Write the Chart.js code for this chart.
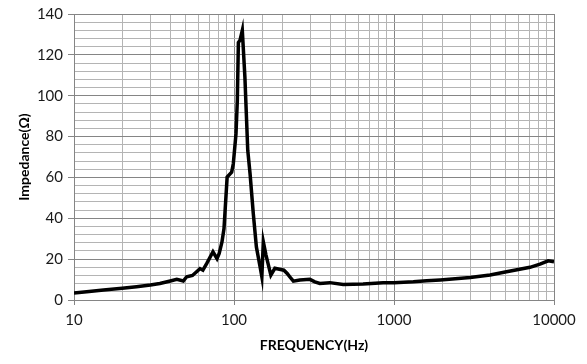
<!DOCTYPE html>
<html>
<head>
<meta charset="utf-8">
<script src="https://cdn.jsdelivr.net/npm/chart.js@4/dist/chart.umd.min.js"></script>
<style>
  html, body { margin: 0; padding: 0; background: #fff; }
  #wrap { width: 587px; height: 364px; }
</style>
</head>
<body>
<div id="wrap"><canvas id="chart"></canvas></div>
<script>
// frequency (Hz) and impedance (ohm)
const freq = [10, 12, 15.3, 20, 24.6, 30, 34.4, 40, 43.9, 48.2, 50.6, 55, 59.8, 61.3, 63.9, 67.6, 73.9, 78.3, 80.8, 84.1, 86.6,
  90.6, 96.7, 99, 102.9, 104.9, 106.5, 109, 112.7, 117, 121.9, 126, 132, 138, 145.5, 149.3, 152.5, 158.5, 170, 180,
  205, 215, 223, 235, 258, 298, 320, 344, 397, 481, 641, 856, 1000, 1320, 1600, 1945, 2993, 3985, 5050, 7080, 8170, 9200, 10000];
const impedance = [3.4, 4.0, 4.9, 5.8, 6.5, 7.3, 8.1, 9.3, 10.1, 9.3, 11.4, 12, 14.6, 15.4, 14.6, 17.9, 23.6, 20.3, 22.8, 28.4, 35,
  60.2, 62.6, 66.7, 81.3, 97.6, 126, 127.1, 132, 109, 73.2, 61.8, 42.3, 26, 16.3, 11.4, 28.5, 22, 12.2, 15.5,
  14.6, 13, 11.4, 9.2, 9.8, 10.1, 8.9, 8.1, 8.5, 7.6, 7.8, 8.5, 8.5, 8.9, 9.4, 9.8, 11, 12.2, 13.8, 16, 17.6, 19.2, 18.7];
const xTickLabels = [10, 100, 1000, 10000];
const yTickLabels = [0, 20, 40, 60, 80, 100, 120, 140];

const majorGrid = '#858585';
const minorGrid = '#b4b4b4';

function isDecade(v) {
  return xTickLabels.some(d => Math.abs(v - d) < 1e-6);
}

new Chart(document.getElementById('chart'), {
  type: 'line',
  data: {
    datasets: [{
      data: freq.map((f, i) => ({ x: f, y: impedance[i] })),
      borderColor: '#000',
      borderWidth: 3.5,
      pointRadius: 0,
      tension: 0,
      fill: false
    }]
  },
  options: {
    responsive: true,
    maintainAspectRatio: false,
    animation: false,
    layout: { padding: { top: 12, right: 33, left: 12, bottom: 0 } },
    plugins: { legend: { display: false }, tooltip: { enabled: false } },
    scales: {
      x: {
        type: 'logarithmic',
        min: 10,
        max: 10000,
        border: { display: true, color: majorGrid, width: 1 },
        grid: {
          color: ctx => isDecade(ctx.tick.value) ? majorGrid : minorGrid,
          tickColor: ctx => isDecade(ctx.tick.value) ? majorGrid : 'rgba(0,0,0,0)',
          tickLength: 5
        },
        ticks: {
          autoSkip: false,
          maxRotation: 0,
          padding: 6,
          color: '#1a1a1a',
          font: { family: 'Lato', size: 15 },
          callback: v => isDecade(v) ? String(v) : ''
        },
        title: {
          display: true,
          text: 'FREQUENCY(Hz)',
          color: '#000',
          font: { family: 'Lato', size: 14, weight: 'bold' },
          padding: { top: 2, bottom: 10 }
        },
        afterFit: s => { s.height = 64; }
      },
      y: {
        min: 0,
        max: 140,
        border: { display: true, color: majorGrid, width: 1 },
        grid: {
          color: ctx => ctx.tick.value % 20 === 0 ? majorGrid : minorGrid,
          tickColor: ctx => ctx.tick.value % 20 === 0 ? majorGrid : 'rgba(0,0,0,0)',
          tickLength: 6
        },
        ticks: {
          stepSize: 4,
          autoSkip: false,
          padding: 5,
          color: '#1a1a1a',
          font: { family: 'Lato', size: 15 },
          callback: v => yTickLabels.includes(v) ? String(v) : ''
        },
        title: {
          display: true,
          text: 'Impedance(Ω)',
          color: '#000',
          font: { family: 'Lato', size: 14, weight: 'bold' },
          padding: { bottom: 4 }
        },
        afterFit: s => { s.width = 62; }
      }
    }
  }
});
</script>
</body>
</html>
